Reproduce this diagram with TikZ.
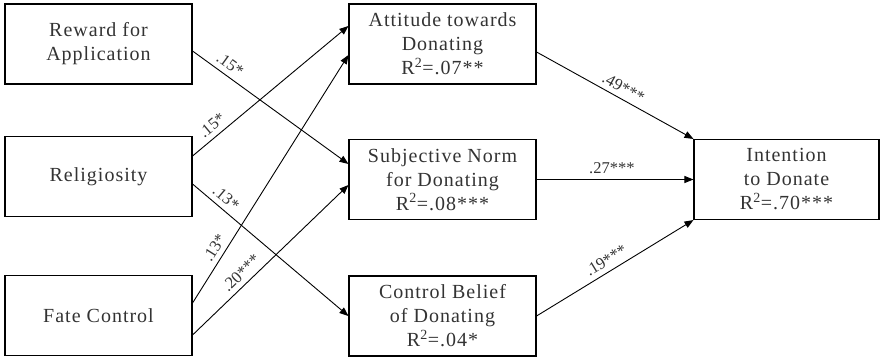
\documentclass[tikz,border=0pt]{standalone}
\usepackage{fontspec}
\setmainfont{Liberation Serif}[LetterSpace=5]
\newfontfamily\coeffont{Liberation Serif}
\usetikzlibrary{arrows.meta}

\tikzset{
	varbox/.style = {draw, line width=1.1pt, minimum width=187pt, minimum height=80pt,
		align=center, inner sep=0pt, text=black!80, font=\fontsize{20}{24}\selectfont},
	path/.style = {line width=.9pt, -{Triangle[length=9pt,width=7pt]}},
	coef/.style = {sloped, above, inner sep=5pt, text=black!80, font=\coeffont\fontsize{16.5}{18}\selectfont}
}

\begin{document}
\begin{tikzpicture}[x=1pt, y=-1pt]
	\useasboundingbox (0,0) rectangle (880,358);
	\node [varbox] (rew) at (98.5,44) {Reward for\\Application};
	\node [varbox] (rel) at (98.5,176.5) {Religiosity};
	\node [varbox] (fate) at (98.5,315.5) {Fate Control};
	\node [varbox] (att) at (442.5,44) {Attitude towards\\Donating\\R\textsuperscript{2}=.07**};
	\node [varbox] (subj) at (442.5,179.5) {Subjective Norm\\for Donating\\R\textsuperscript{2}=.08***};
	\node [varbox] (ctrl) at (442.5,316) {Control Belief\\of Donating\\R\textsuperscript{2}=.04*};
	\node [varbox, minimum width=185pt] (int) at (786.5,179.5) {Intention\\to Donate\\R\textsuperscript{2}=.70***};
	
	\draw [path] ([yshift=-7pt]rew.east) -- ([yshift=15.5pt]subj.west) node [coef, pos=.2] {.15*};
	\draw [path] ([yshift=20.5pt]rel.east) -- ([yshift=18pt]att.west) node [coef, pos=.17] {.15*};
	\draw [path] ([yshift=-7.5pt]rel.east) -- (ctrl.west) node [coef, pos=.17] {.13*};
	\draw [path] ([yshift=12.5pt]fate.east) -- ([yshift=-11pt]att.west) node [coef, pos=.2] {.13*};
	\draw [path] ([yshift=-19.5pt]fate.east) -- ([yshift=-5.5pt]subj.west) node [coef, pos=.36] {.20***};
	\draw [path] ([yshift=-8pt]att.east) -- (int.north west) node [coef, pos=.52] {.49***};
	\draw [path] (subj.east) -- (int.west) node [coef, pos=.48] {.27***};
	\draw [path] (ctrl.east) -- (int.south west) node [coef, pos=.48] {.19***};
	
\end{tikzpicture}
\end{document}
